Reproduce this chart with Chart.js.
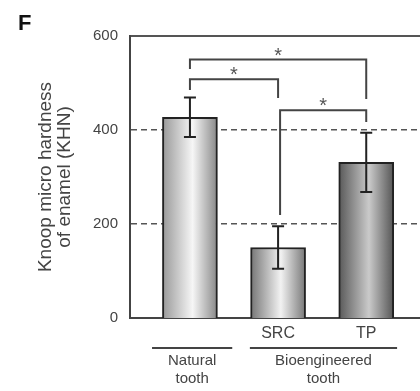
<!DOCTYPE html>
<html>
<head>
<meta charset="utf-8">
<script src="https://cdn.jsdelivr.net/npm/chart.js@4"></script>
<style>
  html, body { margin: 0; padding: 0; background: #fff; }
  #wrap { width: 420px; height: 391px; }
</style>
</head>
<body>
<div id="wrap"><canvas id="knoop" width="420" height="391"></canvas></div>
<script>
// values (KHN)
const groups = ['Natural tooth', 'Bioengineered tooth'];
const barLabels = ['', 'SRC', 'TP'];
const hardness = [427, 150, 331];
const hardnessErr = [42, 45, 63];
const yTicks = [0, 200, 400, 600];

// significance brackets: bar indexes, level of the bar, end drops (KHN)
const sigFrom = [0, 0, 1];
const sigTo = [2, 1, 2];
const sigLevel = [550, 508, 442];
const sigLeftEnd = [530, 485, 219];
const sigRightEnd = [466, 468, 417];

// group underline spans on the x value axis
const groupStart = [-0.43, 0.68];
const groupEnd = [0.48, 2.35];

const gradStops = [
  ['#9a9a9a', '#f6f6f6', '#8a8a8a'],
  ['#777777', '#f2f2f2', '#7a7a7a'],
  ['#5a5a5a', '#cacaca', '#575757']
];

const textCol = '#444';
const font = 'Liberation Sans, Arial, sans-serif';

function barFill(c) {
  const chart = c.chart;
  const xs = chart.scales.x;
  if (!xs || c.type !== 'data') return '#cccccc';
  const cx = xs.getPixelForValue(c.dataIndex);
  if (!isFinite(cx)) return '#cccccc';
  const g = chart.ctx.createLinearGradient(cx - 27, 0, cx + 27, 0);
  const s = gradStops[c.dataIndex];
  g.addColorStop(0, s[0]);
  g.addColorStop(0.55, s[1]);
  g.addColorStop(1, s[2]);
  return g;
}

const extras = {
  id: 'extras',
  afterDatasetsDraw(chart) {
    const ctx = chart.ctx;
    const xs = chart.scales.x, ys = chart.scales.y;
    ctx.save();
    // error bars
    ctx.strokeStyle = '#222';
    ctx.lineWidth = 2;
    hardness.forEach((v, i) => {
      const x = xs.getPixelForValue(i);
      const yt = ys.getPixelForValue(v + hardnessErr[i]);
      const yb = ys.getPixelForValue(v - hardnessErr[i]);
      ctx.beginPath();
      ctx.moveTo(x, yt); ctx.lineTo(x, yb);
      ctx.moveTo(x - 6, yt); ctx.lineTo(x + 6, yt);
      ctx.moveTo(x - 6, yb); ctx.lineTo(x + 6, yb);
      ctx.stroke();
    });
    ctx.restore();
  },
  afterDraw(chart) {
    const ctx = chart.ctx;
    const xs = chart.scales.x, ys = chart.scales.y;
    ctx.save();
    // brackets
    ctx.strokeStyle = '#444';
    ctx.lineWidth = 2;
    ctx.fillStyle = '#555';
    ctx.font = '20px ' + font;
    ctx.textAlign = 'center';
    ctx.textBaseline = 'alphabetic';
    sigFrom.forEach((f, i) => {
      const x1 = xs.getPixelForValue(f) + (f === 1 ? 2 : 0);
      const x2 = xs.getPixelForValue(sigTo[i]);
      const y = ys.getPixelForValue(sigLevel[i]);
      ctx.beginPath();
      ctx.moveTo(x1, ys.getPixelForValue(sigLeftEnd[i]));
      ctx.lineTo(x1, y);
      ctx.lineTo(x2, y);
      ctx.lineTo(x2, ys.getPixelForValue(sigRightEnd[i]));
      ctx.stroke();
      ctx.fillText('*', (x1 + x2) / 2, y + 2);
    });
    // group lines and labels
    const lineY = chart.chartArea.bottom + 30;
    ctx.fillStyle = textCol;
    ctx.font = '15px ' + font;
    ctx.textBaseline = 'middle';
    groups.forEach((g, i) => {
      const a = xs.getPixelForValue(groupStart[i]);
      const b = xs.getPixelForValue(groupEnd[i]);
      ctx.beginPath();
      ctx.moveTo(a, lineY); ctx.lineTo(b, lineY);
      ctx.stroke();
      const words = g.split(' ');
      ctx.fillText(words[0], (a + b) / 2, lineY + 13);
      ctx.fillText(words[1], (a + b) / 2, lineY + 31);
    });
    // panel letter
    ctx.fillStyle = '#111';
    ctx.font = 'bold 22px ' + font;
    ctx.textAlign = 'left';
    ctx.textBaseline = 'alphabetic';
    ctx.fillText('F', 18, 30);
    ctx.restore();
  }
};

new Chart(document.getElementById('knoop'), {
  type: 'bar',
  data: {
    datasets: [{
      data: hardness.map((v, i) => ({ x: i, y: v })),
      backgroundColor: barFill,
      borderColor: '#222',
      borderWidth: 2,
      barThickness: 55
    }]
  },
  options: {
    responsive: false,
    animation: false,
    layout: { padding: { top: 36, right: 0, left: 0, bottom: 0 } },
    plugins: { legend: { display: false }, tooltip: { enabled: false } },
    scales: {
      x: {
        type: 'linear',
        min: -0.68,
        max: 2.61,
        offset: false,
        afterBuildTicks: s => { s.ticks = barLabels.map((l, i) => ({ value: i })); },
        afterFit: s => { s.height = 73; },
        grid: { display: false, drawTicks: false },
        border: { display: true, color: '#444', width: 2 },
        ticks: {
          autoSkip: false,
          maxRotation: 0,
          padding: 6,
          color: textCol,
          font: { family: font, size: 16 },
          callback: v => barLabels[v] || ''
        }
      },
      y: {
        min: 0,
        max: 600,
        afterBuildTicks: s => { s.ticks = yTicks.map(v => ({ value: v })); },
        afterFit: s => { s.width = 130; },
        grid: {
          drawTicks: false,
          color: '#555',
          lineWidth: c => (c.tick && c.tick.value === 600) ? 2 : (c.tick && c.tick.value === 0 ? 0 : 1.5)
        },
        border: {
          display: true,
          color: '#444',
          width: 2,
          dash: c => (c.tick && (c.tick.value === 200 || c.tick.value === 400)) ? [6, 4] : []
        },
        ticks: {
          padding: 12,
          color: textCol,
          font: { family: font, size: 15 }
        },
        title: {
          display: true,
          text: ['Knoop micro hardness', 'of enamel (KHN)'],
          color: textCol,
          font: { family: font, size: 19, lineHeight: 1 },
          padding: { top: 36, bottom: 0 }
        }
      }
    }
  },
  plugins: [extras]
});
</script>
</body>
</html>
